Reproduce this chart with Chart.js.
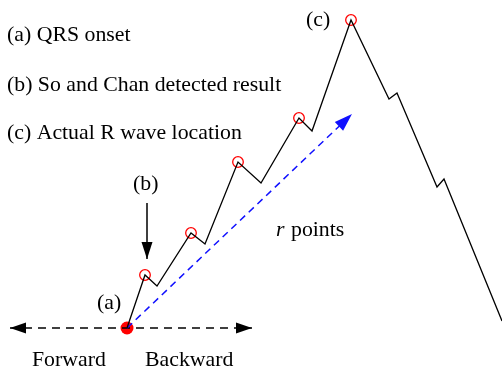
<!DOCTYPE html>
<html>
<head>
<meta charset="utf-8">
<script src="https://cdn.jsdelivr.net/npm/chart.js@4/dist/chart.umd.min.js"></script>
<style>
  html, body { margin: 0; padding: 0; background: #fff; }
  #wrap { width: 502px; height: 372px; position: relative; }
</style>
</head>
<body>
<div id="wrap"><canvas id="c"></canvas></div>
<script>
// ECG upstroke: sample position vs amplitude
const signalX = [127, 145, 157, 191, 205, 238, 261, 299, 312, 351, 389, 397, 437, 444, 502];
const signalY = [44, 97, 86, 139, 128, 210, 189, 254, 241, 352, 273, 279, 185, 193, 51];

// local peaks marked with open circles
const peakX = [145, 191, 238, 299, 351];
const peakY = [97, 139, 210, 254, 352];

// QRS onset
const onsetX = [127];
const onsetY = [44];

// search arrow over r points (onset -> tip)
const rArrowX = [127, 352];
const rArrowY = [44, 258];

// forward / backward direction arrow
const dirArrowX = [10, 252];
const dirArrowY = [44, 44];

// arrow pointing at detected result (b)
const markArrowX = [147, 147];
const markArrowY = [169, 113];

// text annotations
const labelText = ['(a) QRS onset', '(b) So and Chan detected result', '(c) Actual R wave location',
                   '(c)', '(b)', '(a)', 'points', 'r', 'Forward', 'Backward'];
const labelX = [7, 7, 7, 306, 133, 97, 291, 276, 32, 145];
const labelY = [337, 287, 239, 352, 188, 69, 142, 142, 12, 12];
const labelItalic = [false, false, false, false, false, false, false, true, false, false];

const toPts = (xs, ys) => xs.map((x, i) => ({ x, y: ys[i] }));

// draws filled triangular heads at the ends of a dataset's line
const arrowHeads = {
  id: 'arrowHeads',
  afterDatasetsDraw(chart) {
    const ctx = chart.ctx;
    chart.data.datasets.forEach((ds, di) => {
      if (!ds.heads) return;
      const meta = chart.getDatasetMeta(di);
      const p = meta.data.map(el => ({ x: el.x, y: el.y }));
      const draw = (from, to) => {
        const ang = Math.atan2(to.y - from.y, to.x - from.x);
        const L = ds.headLen, W = ds.headHalf;
        ctx.save();
        ctx.fillStyle = ds.borderColor;
        ctx.beginPath();
        ctx.moveTo(to.x, to.y);
        ctx.lineTo(to.x - L * Math.cos(ang) + W * Math.sin(ang), to.y - L * Math.sin(ang) - W * Math.cos(ang));
        ctx.lineTo(to.x - L * Math.cos(ang) - W * Math.sin(ang), to.y - L * Math.sin(ang) + W * Math.cos(ang));
        ctx.closePath();
        ctx.fill();
        ctx.restore();
      };
      if (ds.heads.includes('end')) draw(p[0], p[p.length - 1]);
      if (ds.heads.includes('start')) draw(p[p.length - 1], p[0]);
    });
  }
};

// text labels placed in data coordinates
const textLabels = {
  id: 'textLabels',
  afterDraw(chart) {
    const ctx = chart.ctx;
    const sx = chart.scales.x, sy = chart.scales.y;
    ctx.save();
    ctx.fillStyle = '#000';
    ctx.textAlign = 'left';
    ctx.textBaseline = 'middle';
    labelText.forEach((t, i) => {
      ctx.font = (labelItalic[i] ? 'italic ' : '') + '21.8px "Liberation Serif", "Times New Roman", serif';
      ctx.fillText(t, sx.getPixelForValue(labelX[i]), sy.getPixelForValue(labelY[i]));
    });
    ctx.restore();
  }
};

const lineDs = (xs, ys, extra) => Object.assign({
  data: toPts(xs, ys),
  showLine: true,
  fill: false,
  clip: false,
  pointRadius: 0,
  pointHoverRadius: 0,
  tension: 0,
  borderJoinStyle: 'miter'
}, extra);

new Chart(document.getElementById('c'), {
  type: 'scatter',
  data: {
    datasets: [
      lineDs(signalX, signalY, { borderColor: '#000', borderWidth: 1.3 }),
      lineDs(rArrowX, rArrowY, { borderColor: '#1010ff', borderWidth: 1.5, borderDash: [7, 5],
                                 heads: ['end'], headLen: 18, headHalf: 6 }),
      lineDs(dirArrowX, dirArrowY, { borderColor: '#000', borderWidth: 1.5, borderDash: [8, 6],
                                     heads: ['start', 'end'], headLen: 16, headHalf: 5.5 }),
      lineDs(markArrowX, markArrowY, { borderColor: '#000', borderWidth: 1.5,
                                       heads: ['end'], headLen: 17, headHalf: 5.5 }),
      {
        data: toPts(peakX, peakY),
        showLine: false,
        clip: false,
        pointRadius: 5.3,
        pointBorderWidth: 1.3,
        pointBorderColor: '#ff0000',
        pointBackgroundColor: 'rgba(0,0,0,0)'
      },
      {
        data: toPts(onsetX, onsetY),
        showLine: false,
        clip: false,
        pointRadius: 6.5,
        pointBorderWidth: 0,
        pointBorderColor: '#ff0000',
        pointBackgroundColor: '#ff0000'
      }
    ]
  },
  options: {
    responsive: true,
    maintainAspectRatio: false,
    animation: false,
    events: [],
    layout: { padding: 0, autoPadding: false },
    plugins: { legend: { display: false }, tooltip: { enabled: false } },
    scales: {
      x: { type: 'linear', min: 0, max: 502, display: false },
      y: { type: 'linear', min: 0, max: 372, display: false }
    }
  },
  plugins: [arrowHeads, textLabels]
});
</script>
</body>
</html>
